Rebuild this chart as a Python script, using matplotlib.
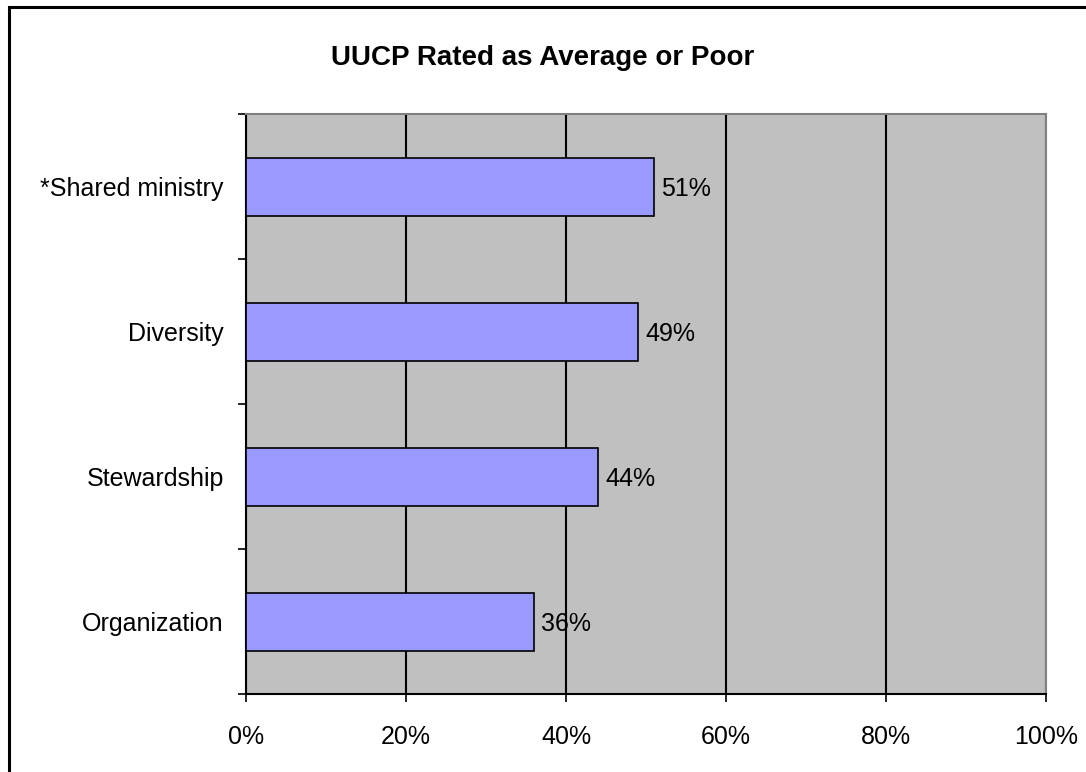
import numpy as np
import matplotlib
matplotlib.use('Agg')
import matplotlib.pyplot as plt
from matplotlib.patches import Rectangle

plt.rcParams['font.family'] = ['Liberation Sans', 'DejaVu Sans']

# data
categories = ['Organization', 'Stewardship', 'Diversity', '*Shared ministry']
values = [36, 44, 49, 51]
xticks = [0, 20, 40, 60, 80, 100]

fig = plt.figure(figsize=(10.86, 7.72), dpi=100)
ax = fig.add_axes([246/1086, 1-694/772, 800/1086, 580/772])

ypos = np.arange(len(categories))
ax.set_facecolor('#c0c0c0')
ax.barh(ypos, values, height=0.4, color='#9999ff', edgecolor='black', linewidth=1.2, zorder=3)
for y, v in zip(ypos, values):
    ax.annotate(f'{v}%', (v, y), xytext=(5, 0), textcoords='offset points',
                va='center_baseline', ha='left', fontsize=18, zorder=4)

ax.set_xlim(0, 100)
ax.set_ylim(-0.5, len(categories)-0.5)
ax.set_xticks(xticks)
ax.set_xticklabels([f'{t}%' for t in xticks], fontsize=18)
ax.set_yticks(ypos)
ax.set_yticklabels(categories, fontsize=18)
ax.set_yticks(np.arange(-0.5, len(categories)), minor=True)
ax.tick_params(axis='y', which='major', length=0, pad=16)
ax.tick_params(axis='y', which='minor', length=6, width=1.2, direction='out')
ax.tick_params(axis='x', length=6, width=1.2, direction='out', pad=16)
ax.xaxis.grid(True, color='black', linewidth=1.5, zorder=1)
ax.set_axisbelow(True)
for s in ['left', 'bottom']:
    ax.spines[s].set_color('black')
    ax.spines[s].set_linewidth(1.5)
for s in ['top', 'right']:
    ax.spines[s].set_color('#808080')
    ax.spines[s].set_linewidth(1.5)

fig.text(0.5, 1-58/772, 'UUCP Rated as Average or Poor', ha='center', va='center',
         fontsize=20, fontweight='bold')

# outer chart border, runs off the right and bottom edge
fig.patches.append(Rectangle((9/1086, -0.05), 1.1, 1.05-7/772, transform=fig.transFigure,
                             fill=False, edgecolor='black', linewidth=2.2))

fig.savefig('out.png', dpi=100)
